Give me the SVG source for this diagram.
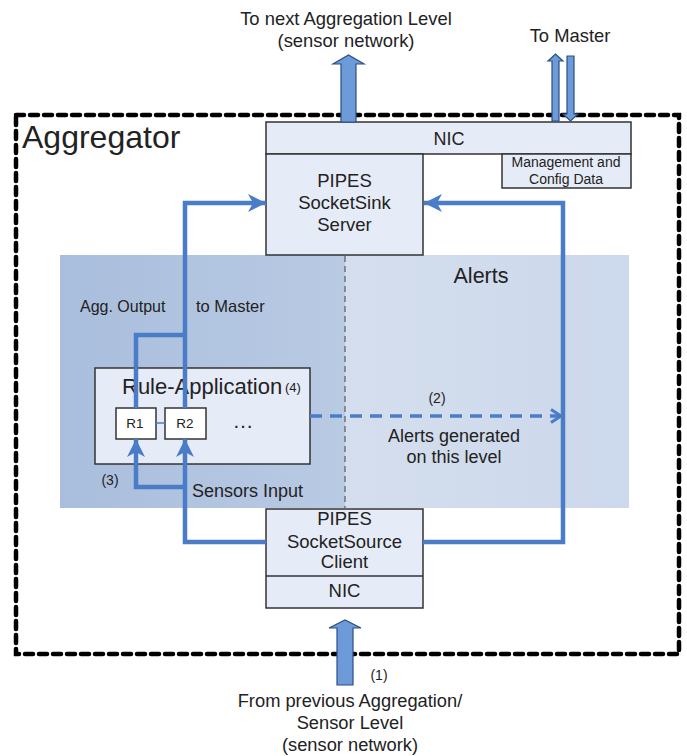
<svg xmlns="http://www.w3.org/2000/svg" width="687" height="756" viewBox="0 0 687 756">
<defs>
<style>
text{font-family:"Liberation Sans",Arial,sans-serif;fill:#222}
.box{fill:#e6ecf7;stroke:#333;stroke-width:1.5}
.wbox{fill:#fff;stroke:#333;stroke-width:1.5}
.flow{fill:none;stroke:#4a7cc8;stroke-width:4.5;stroke-linejoin:miter}
.fat{fill:#6d9ad8;stroke:#2c4f86;stroke-width:1.2}
</style>
<marker id="ah" viewBox="0 0 18 18" refX="18" refY="9" markerWidth="18" markerHeight="18" markerUnits="userSpaceOnUse" orient="auto"><path d="M0,0 L18,9 L0,18 L5,9 Z" fill="#4a7cc8"/></marker>
<marker id="oah" viewBox="0 0 14 16" refX="13" refY="8" markerWidth="14" markerHeight="16" markerUnits="userSpaceOnUse" orient="auto"><path d="M2,1.5 L12,8 L2,14.5" fill="none" stroke="#4a7cc8" stroke-width="3"/></marker>
<linearGradient id="gl" x1="0" y1="0" x2="1" y2="0"><stop offset="0" stop-color="#a9bedd"/><stop offset="1" stop-color="#b9cae3"/></linearGradient>
<linearGradient id="gr" x1="0" y1="0" x2="1" y2="0"><stop offset="0" stop-color="#d4deee"/><stop offset="1" stop-color="#ccd8eb"/></linearGradient>
</defs>
<rect width="687" height="756" fill="#fff"/>
<g id="aggregator">
<rect x="16" y="115" width="663" height="539" fill="none" stroke="#000" stroke-width="4.5" stroke-dasharray="8 6" stroke-linecap="round"/>
<text x="22" y="148" font-size="32">Aggregator</text>
</g>
<g id="zone">
<rect x="60" y="255" width="285" height="253" fill="url(#gl)"/>
<rect x="345" y="255" width="284" height="253" fill="url(#gr)"/>
<line x1="345" y1="256" x2="345" y2="508" stroke="#444" stroke-width="1" stroke-dasharray="6 4"/>
<text x="481" y="283" font-size="21.5" text-anchor="middle">Alerts</text>
<text x="80" y="312" font-size="16">Agg. Output</text>
<text x="196" y="312" font-size="16.5">to Master</text>
</g>
<g id="nic-top">
<rect class="box" x="266" y="122" width="365" height="32"/>
<text x="449" y="145" font-size="18" text-anchor="middle">NIC</text>
</g>
<g id="mgmt">
<rect class="box" x="502" y="154" width="129" height="34"/>
<text x="566" y="167" font-size="14" text-anchor="middle">Management and</text>
<text x="566" y="184" font-size="14" text-anchor="middle">Config Data</text>
</g>
<g id="sink">
<rect class="box" x="266" y="154" width="157" height="101"/>
<text x="344.5" y="187" font-size="18.5" text-anchor="middle">PIPES</text>
<text x="344.5" y="209" font-size="18.5" text-anchor="middle">SocketSink</text>
<text x="344.5" y="231" font-size="18.5" text-anchor="middle">Server</text>
</g>
<g id="source">
<rect class="box" x="266" y="509" width="157" height="99"/>
<line x1="266" y1="576" x2="423" y2="576" stroke="#333" stroke-width="1.5"/>
<text x="344.5" y="525" font-size="18.5" text-anchor="middle">PIPES</text>
<text x="344.5" y="548" font-size="18.5" text-anchor="middle">SocketSource</text>
<text x="344.5" y="568" font-size="18.5" text-anchor="middle">Client</text>
<text x="344.5" y="597" font-size="18.5" text-anchor="middle">NIC</text>
</g>
<g id="rule-app">
<rect class="box" x="95" y="368" width="215" height="96"/>
<text x="122" y="394" font-size="22">Rule-Application</text>
<text x="285" y="392" font-size="13">(4)</text>
</g>
<g id="r1">
<rect class="wbox" x="116" y="408" width="40" height="31"/>
<text x="135" y="428" font-size="13.5" text-anchor="middle">R1</text>
</g>
<g id="r2">
<rect class="wbox" x="165" y="408" width="41" height="31"/>
<text x="185" y="428" font-size="13.5" text-anchor="middle">R2</text>
</g>
<text x="243" y="428" font-size="21" text-anchor="middle">…</text>
<g id="connectors">
<line x1="156" y1="423" x2="165" y2="423" stroke="#4a7cc8" stroke-width="1.5"/>
<path class="flow" d="M185,408 V203 H266" marker-end="url(#ah)"/>
<path class="flow" d="M136,408 V335 H185"/>
<path class="flow" d="M266,542 H185 V439" marker-end="url(#ah)"/>
<path class="flow" d="M185,487 H136 V439" marker-end="url(#ah)"/>
<path class="flow" d="M423,542 H563 V203 H424" marker-end="url(#ah)"/>
<path d="M310,416 H562" fill="none" stroke="#4a7cc8" stroke-width="3.5" stroke-dasharray="12 8" marker-end="url(#oah)"/>
<path class="fat" d="M341,122 V64 H333 L348.5,55 L364,64 H356 V122 Z"/>
<path class="fat" d="M552,121 V61 H548 L555.5,54 L563,61 H559 V121 Z"/>
<path class="fat" d="M567,56 V114 H563 L570.5,121 L578,114 H574 V56 Z"/>
<path class="fat" d="M337,685 V628 H329 L345,620 L361,628 H353 V685 Z"/>
</g>
<g id="labels">
<text x="346" y="25" font-size="18.4" text-anchor="middle">To next Aggregation Level</text>
<text x="346" y="47" font-size="18.4" text-anchor="middle">(sensor network)</text>
<text x="570" y="42" font-size="18.4" text-anchor="middle">To Master</text>
<text x="437" y="403" font-size="14" text-anchor="middle">(2)</text>
<text x="454" y="442" font-size="18" text-anchor="middle">Alerts generated</text>
<text x="454" y="463" font-size="18" text-anchor="middle">on this level</text>
<text x="110" y="485" font-size="14" text-anchor="middle">(3)</text>
<text x="192" y="497" font-size="18">Sensors Input</text>
<text x="379" y="680" font-size="14" text-anchor="middle">(1)</text>
<text x="350" y="707" font-size="18.3" text-anchor="middle">From previous Aggregation/</text>
<text x="350" y="729" font-size="18.3" text-anchor="middle">Sensor Level</text>
<text x="350" y="751" font-size="18.3" text-anchor="middle">(sensor network)</text>
</g>
</svg>
